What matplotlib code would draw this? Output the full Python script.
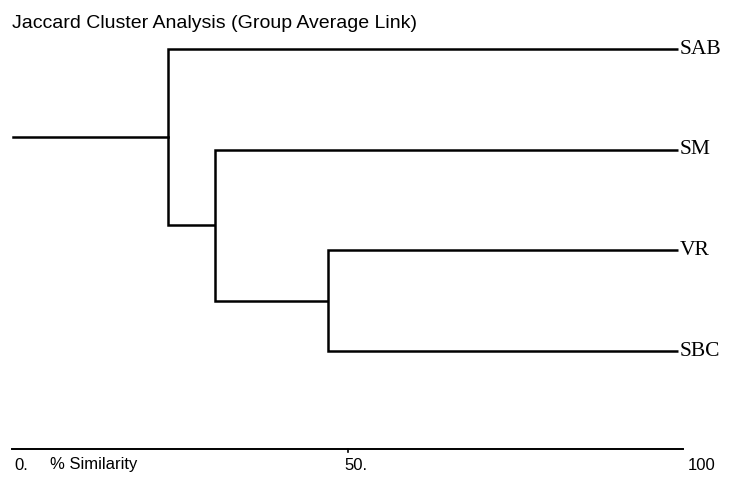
import matplotlib.pyplot as plt

# dendrogram data (% similarity at which clusters join)
leaves = ['SAB', 'SM', 'VR', 'SBC']
merges = [('VR', 'SBC', 47.1),
          ('SM', 'VR+SBC', 30.3),
          ('SAB', 'SM+VR+SBC', 23.2)]
leaf_end = 99.3
root_start = 0.2

scale_ticks = [0, 50, 100]
scale_labels = ['0.', '50.', '100']

fig = plt.figure(figsize=(7.35, 4.82), dpi=100)
ax = fig.add_axes([0, 0, 1, 1])
ax.axis('off')

# map data -> pixels: x px = 12 + 6.71*sim, y px = 49 + 100.7*index
ax.set_xlim(-12 / 6.71, (735 - 12) / 6.71)
ax.set_ylim((482 - 49) / 100.7, -49 / 100.7)

lw = 1.8
nodes = {name: (leaf_end, i) for i, name in enumerate(leaves)}
for a, b, sim in merges:
    xa, ya = nodes[a]
    xb, yb = nodes[b]
    ax.plot([xa, sim, sim, xb], [ya, ya, yb, yb], color='black', lw=lw,
            solid_joinstyle='miter', solid_capstyle='butt')
    nodes[a + '+' + b] = (sim, (ya + yb) / 2)

root_x, root_y = nodes[merges[-1][0] + '+' + merges[-1][1]]
ax.plot([root_start, root_x], [root_y, root_y], color='black', lw=lw)

for i, name in enumerate(leaves):
    ax.text(leaf_end + 0.2, i, name, family='Liberation Serif', fontsize=15.5,
            ha='left', va='center')

# similarity scale at the bottom
scale_y = (449 - 49) / 100.7
ax.plot([scale_ticks[0], scale_ticks[-1]], [scale_y, scale_y], color='black', lw=1.4)
ax.plot([50, 50], [scale_y, scale_y + 0.03], color='black', lw=1.2)
lab_y = (465 - 49) / 100.7
offsets = [0.4, -0.4, 0.7]
for t, lab, off in zip(scale_ticks, scale_labels, offsets):
    ax.text(t + off, lab_y, lab, family='Liberation Sans', fontsize=12,
            ha='left', va='center')
ax.text(5.6, lab_y, '% Similarity', family='Liberation Sans', fontsize=12,
        ha='left', va='center')

fig.text(12 / 735, 1 - 24 / 482, 'Jaccard Cluster Analysis (Group Average Link)',
         family='Liberation Sans', fontsize=14, ha='left', va='center')

fig.savefig('out.png', dpi=100)
